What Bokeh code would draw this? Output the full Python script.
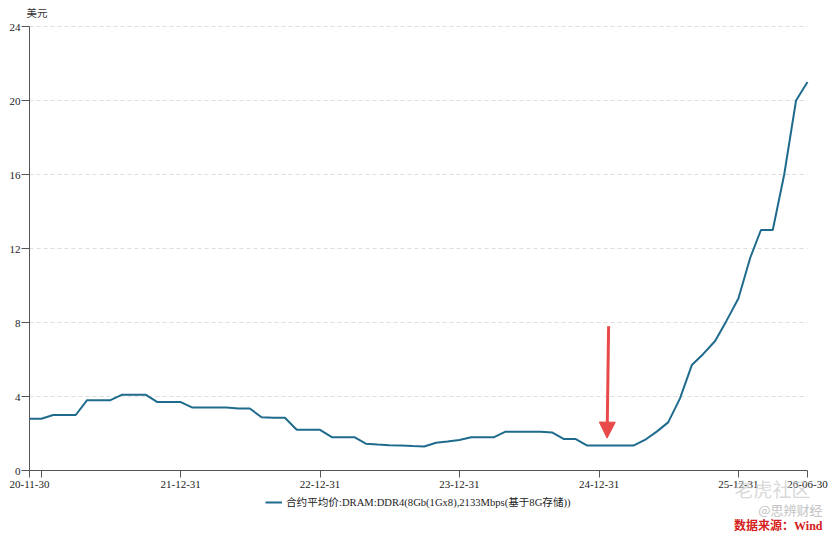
import datetime as dt
from bokeh.plotting import figure
from bokeh.models import (Range1d, FixedTicker, Legend, LegendItem, Label, Arrow,
                          NormalHead, ColumnDataSource)
from bokeh.embed import file_html
from bokeh.resources import INLINE

# ---------------- data ----------------
months = [
    "2020-11-30", "2020-12-31",
    "2021-01-31", "2021-02-28", "2021-03-31", "2021-04-30", "2021-05-31", "2021-06-30",
    "2021-07-31", "2021-08-31", "2021-09-30", "2021-10-31", "2021-11-30", "2021-12-31",
    "2022-01-31", "2022-02-28", "2022-03-31", "2022-04-30", "2022-05-31", "2022-06-30",
    "2022-07-31", "2022-08-31", "2022-09-30", "2022-10-31", "2022-11-30", "2022-12-31",
    "2023-01-31", "2023-02-28", "2023-03-31", "2023-04-30", "2023-05-31", "2023-06-30",
    "2023-07-31", "2023-08-31", "2023-09-30", "2023-10-31", "2023-11-30", "2023-12-31",
    "2024-01-31", "2024-02-29", "2024-03-31", "2024-04-30", "2024-05-31", "2024-06-30",
    "2024-07-31", "2024-08-31", "2024-09-30", "2024-10-31", "2024-11-30", "2024-12-31",
    "2025-01-31", "2025-02-28", "2025-03-31", "2025-04-30", "2025-05-31", "2025-06-30",
    "2025-07-31", "2025-08-31", "2025-09-30", "2025-10-31", "2025-11-30", "2025-12-31",
    "2026-01-31", "2026-02-28", "2026-03-31", "2026-04-30", "2026-05-31", "2026-06-30",
]
prices = [
    2.80, 2.80,
    3.00, 3.00, 3.00, 3.80, 3.80, 3.80,
    4.10, 4.10, 4.10, 3.70, 3.70, 3.70,
    3.40, 3.40, 3.40, 3.40, 3.35, 3.35,
    2.88, 2.85, 2.85, 2.20, 2.20, 2.20,
    1.80, 1.80, 1.80, 1.45, 1.40, 1.37,
    1.35, 1.32, 1.30, 1.50, 1.57, 1.65,
    1.80, 1.80, 1.80, 2.10, 2.10, 2.10,
    2.10, 2.05, 1.70, 1.70, 1.35, 1.35,
    1.35, 1.35, 1.35, 1.65, 2.10, 2.60,
    3.90, 5.70, 6.30, 7.00, 8.10, 9.30,
    11.50, 13.00, 13.00, 16.00, 20.00, 21.00,
]
series_name = "合约平均价:DRAM:DDR4(8Gb(1Gx8),2133Mbps(基于8G存储))"
y_ticks = [0, 4, 8, 12, 16, 20, 24]
y_tick_labels = ["0", "4", "8", "12", "16", "20", "24"]
x_tick_dates = ["2020-11-30", "2020-12-31", "2021-12-31", "2022-12-31",
                "2023-12-31", "2024-12-31", "2025-12-31", "2026-06-30"]
x_tick_labels = ["20-11-30", "", "21-12-31", "22-12-31",
                 "23-12-31", "24-12-31", "25-12-31", "26-06-30"]
arrow_date = "2025-01-21"
arrow_top, arrow_tip = 7.8, 1.75
unit_label = "美元"
source_label = "数据来源：Wind"
watermark1 = "@思辨财经"
watermark2 = "老虎社区"

# ---------------- layout constants (pixels) ----------------
W, H = 830, 534
LEFT_PX = 29          # y axis line / first date
RIGHT_PX = 807        # last date
TOP_PX = 26           # y = 24
ZERO_PX = 470         # y = 0

EPOCH = dt.datetime(1970, 1, 1)
def ms(s):
    return (dt.datetime.strptime(s, "%Y-%m-%d") - EPOCH).total_seconds() * 1000.0

x0, x1 = ms(months[0]), ms(months[-1])
span = x1 - x0
mpp = span / (RIGHT_PX - LEFT_PX)            # ms per pixel
x_start = x0 - LEFT_PX * mpp
x_end = x0 + (W - LEFT_PX) * mpp
ppu = (ZERO_PX - TOP_PX) / (y_ticks[-1] - y_ticks[0])
y_top = y_ticks[-1] + TOP_PX / ppu
y_bot = y_ticks[0] - (H - ZERO_PX) / ppu

xs = [dt.datetime.strptime(m, "%Y-%m-%d") for m in months]
src = ColumnDataSource(dict(x=xs, y=prices))

SERIF = "'Liberation Serif', 'Noto Sans CJK SC', serif"
LINE_COLOR = "#1f6b8e"
AXIS_COLOR = "#555555"
NBSP = "\u00a0"

p = figure(width=W, height=H, x_axis_type="datetime",
           x_axis_location="above", y_axis_location="right",
           output_backend="svg", toolbar_location=None,
           x_range=Range1d(x_start, x_end), y_range=Range1d(y_bot, y_top))
p.min_border_left = 0
p.min_border_right = 0
p.min_border_top = 0
p.min_border_bottom = 0
p.outline_line_color = None
p.background_fill_color = "white"
p.border_fill_color = "white"

# dashed horizontal grid lines spanning the date range
p.xgrid.grid_line_color = None
p.ygrid.grid_line_color = None
grid_y = y_ticks[1:]
p.segment(x0=[x0] * len(grid_y), x1=[x1] * len(grid_y), y0=grid_y, y1=grid_y,
          line_color="#dddddd", line_dash="4 3", line_width=1)

r = p.line("x", "y", source=src, line_color=LINE_COLOR, line_width=2)

# y axis: drawn at the first date, ticks pointing left, labels right-aligned
ya = p.yaxis[0]
ya.fixed_location = x0
ya.bounds = (y_ticks[0], y_ticks[-1])
ya.ticker = FixedTicker(ticks=y_ticks)
ya.major_label_overrides = {t: NBSP * (2 * (2 - len(l))) + l
                            for t, l in zip(y_ticks, y_tick_labels)}
ya.minor_tick_line_color = None
ya.major_tick_in = 8
ya.major_tick_out = 0
ya.axis_line_color = AXIS_COLOR
ya.major_tick_line_color = AXIS_COLOR
ya.major_label_text_font = SERIF
ya.major_label_text_font_size = "11px"
ya.major_label_text_color = "#222222"
ya.major_label_standoff = -20

# x axis: drawn at y = 0, ticks and labels pointing down
tick_ms = [ms(d) for d in x_tick_dates]
xa = p.xaxis[0]
xa.fixed_location = 0
xa.bounds = (x0, x1)
xa.ticker = FixedTicker(ticks=tick_ms)
xa.major_label_overrides = {t: l for t, l in zip(tick_ms, x_tick_labels)}
xa.minor_tick_line_color = None
xa.major_tick_in = 7
xa.major_tick_out = 0
xa.axis_line_color = AXIS_COLOR
xa.major_tick_line_color = AXIS_COLOR
xa.major_label_text_font = SERIF
xa.major_label_text_font_size = "11px"
xa.major_label_text_color = "#222222"
xa.major_label_standoff = -17

# legend, centred under the axis
legend = Legend(items=[LegendItem(label=series_name, renderers=[r])],
                orientation="horizontal", location=(265, 25),
                label_text_font=SERIF, label_text_font_size="10.6px",
                label_text_color="#222222",
                glyph_width=17, glyph_height=12, padding=0, margin=0,
                label_standoff=4, border_line_color=None,
                background_fill_alpha=0)
p.add_layout(legend)

# unit label
p.add_layout(Label(x=x0, y=y_ticks[-1], x_offset=-3, y_offset=8,
                   text=unit_label, text_font=SERIF, text_font_size="10.5px",
                   text_color="#333333", text_baseline="bottom", text_align="left"))

# arrow annotation
p.add_layout(Arrow(x_start=ms(arrow_date) + 4 * 86400000, y_start=arrow_top,
                   x_end=ms(arrow_date), y_end=arrow_tip,
                   line_color="#e84a4a", line_width=3,
                   end=NormalHead(size=16, fill_color="#e84a4a",
                                  line_color="#e84a4a")))

# watermarks & source
p.add_layout(Label(x=x1, y=0, x_offset=3, y_offset=-31,
                   text=watermark2, text_font="'Noto Sans CJK SC'",
                   text_font_size="19px", text_color="#c8c8c8", text_alpha=0.7,
                   text_align="right", text_baseline="bottom"))
p.add_layout(Label(x=x1, y=0, x_offset=15, y_offset=-48,
                   text=watermark1, text_font="'Noto Sans CJK SC'",
                   text_font_size="13px", text_color="#c4c4c4",
                   text_align="right", text_baseline="bottom"))
p.add_layout(Label(x=x1, y=0, x_offset=15, y_offset=-62,
                   text=source_label, text_font=SERIF, text_font_style="bold",
                   text_font_size="12px", text_color="#d42020",
                   text_align="right", text_baseline="bottom"))

open("out.html", "w").write(file_html(p, INLINE))
